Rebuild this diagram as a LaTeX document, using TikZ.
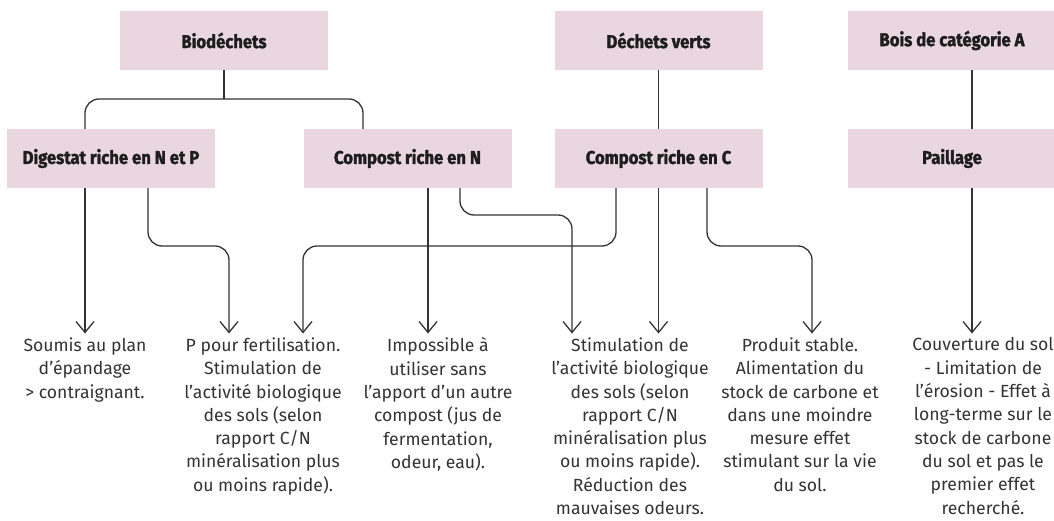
\documentclass[tikz,border=0pt]{standalone}
\usepackage{fontspec}
\setmainfont{Fira Sans}
\newcommand{\titlefont}{\bfseries\addfontfeatures{FakeBold=1.6, FakeStretch=0.9}}
\usetikzlibrary{arrows.meta}
\definecolor{boxpink}{HTML}{EAD6DF}
\definecolor{ink}{HTML}{1E1E1E}
\definecolor{bodyink}{HTML}{333333}
\definecolor{wirecol}{HTML}{333333}
\tikzset{
  catbox/.style={fill=boxpink, minimum width=208pt, minimum height=59pt, inner sep=0pt,
    font=\titlefont\fontsize{18.5}{21}\selectfont, text=ink},
  desc/.style={align=center, anchor=north, inner sep=0pt,
    font=\fontsize{17.6}{23.3}\selectfont, text=bodyink},
  wire/.style={draw=wirecol, line width=1.3pt, rounded corners=14pt},
  arr/.style={wire, -{Straight Barb[length=11pt,width=18pt]}, shorten >=4pt},
}
\begin{document}
\begin{tikzpicture}[x=1pt,y=-1pt]
\useasboundingbox (0,0) rectangle (1054,521);
% category boxes
\node[catbox] (bio) at (224,40.5) {Biodéchets};
\node[catbox] (dv) at (658.5,40.5) {Déchets verts};
\node[catbox] (bois) at (952,40.5) {Bois de catégorie A};
\node[catbox] (dig) at (111,158.5) {Digestat riche en N et P};
\node[catbox] (cn) at (407.5,158.5) {Compost riche en N};
\node[catbox] (cc) at (658.5,158.5) {Compost riche en C};
\node[catbox] (pa) at (952,158.5) {Paillage};
% descriptions
\node[desc] (t1) at (85,337.5) {Soumis au plan\\d'épandage\\> contraignant.};
\node[desc] (t2) at (263,337.5) {P pour fertilisation.\\Stimulation de\\l’activité biologique\\des sols (selon\\rapport C/N\\minéralisation plus\\ou moins rapide).};
\node[desc] (t3) at (438,337.5) {Impossible à\\utiliser sans\\l’apport d’un autre\\compost (jus de\\fermentation,\\odeur, eau).};
\node[desc] (t4) at (630,337.5) {Stimulation de\\l’activité biologique\\des sols (selon\\rapport C/N\\minéralisation plus\\ou moins rapide).\\Réduction des\\mauvaises odeurs.};
\node[desc] (t5) at (800,337.5) {Produit stable.\\Alimentation du\\stock de carbone et\\dans une moindre\\mesure effet\\stimulant sur la vie\\du sol.};
\node[desc] (t6) at (983,337.5) {Couverture du sol\\- Limitation de\\l’érosion - Effet à\\long-terme sur le\\stock de carbone\\du sol et pas le\\premier effet\\recherché.};
% guide coordinates
\coordinate (xa) at (85,0);
\coordinate (xb) at (148,0);
\coordinate (xc) at (229,0);
\coordinate (xd) at (303,0);
\coordinate (xe) at (363,0);
\coordinate (xf) at (428,0);
\coordinate (xg) at (460,0);
\coordinate (xh) at (572,0);
\coordinate (xi) at (616,0);
\coordinate (xj) at (707,0);
\coordinate (xk) at (812,0);
\coordinate (xl) at (972,0);
\coordinate (bj) at (224,99);
\coordinate (ya) at (0,215);
\coordinate (yb) at (0,246);
% top connectors
\draw[wire] (bio.south) -- (bj);
\draw[wire] (dig.north -| xa) |- (bj) -| (cn.north -| xe);
\draw[wire] (dv.south) -- (cc.north);
\draw[wire] (bois.south -| xl) -- (pa.north -| xl);
% arrows to descriptions
\draw[arr] (dig.south -| xa) -- (t1.north -| xa);
\draw[arr] (dig.south -| xb) -- (xb |- yb) -- (xc |- yb) -- (t2.north -| xc);
\draw[arr] (cc.south -| xi) -- (xi |- yb) -- (xd |- yb) -- (t2.north -| xd);
\draw[arr] (cn.south -| xf) -- (t3.north -| xf);
\draw[arr] (cn.south -| xg) -- (xg |- ya) -- (xh |- ya) -- (t4.north -| xh);
\draw[arr] (cc.south) -- (t4.north -| cc.south);
\draw[arr] (cc.south -| xj) -- (xj |- yb) -- (xk |- yb) -- (t5.north -| xk);
\draw[arr] (pa.south -| xl) -- (t6.north -| xl);
\end{tikzpicture}
\end{document}
